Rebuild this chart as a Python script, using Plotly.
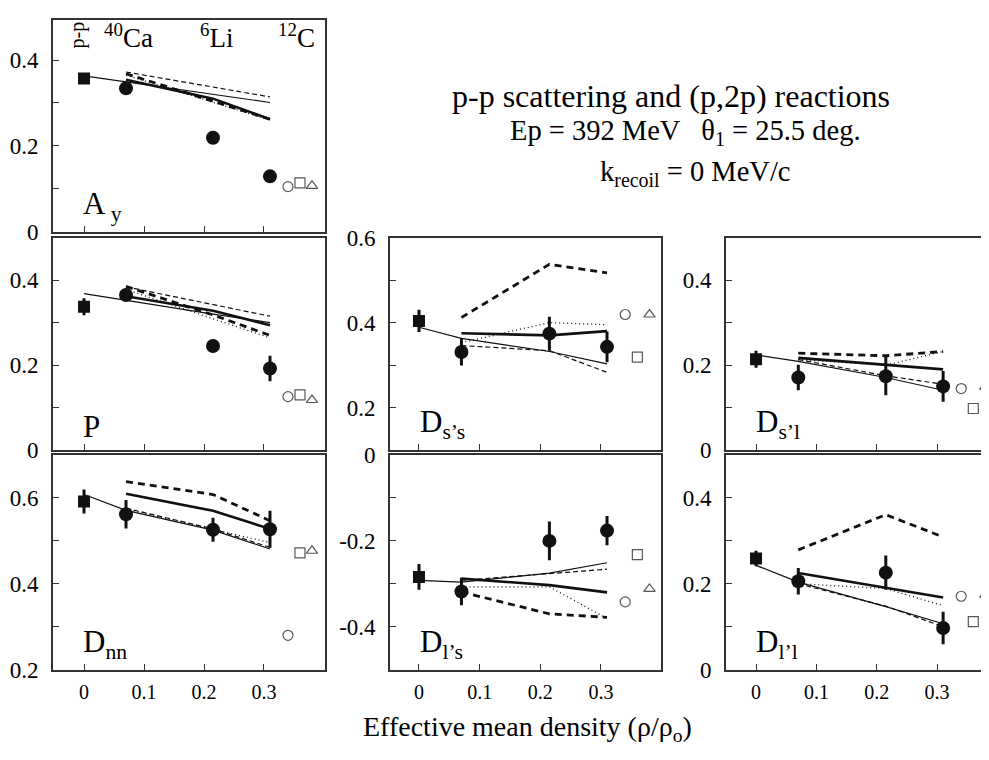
import plotly.graph_objects as go

# the page puts the plot 8px in from the top-left corner, so the figure is
# made 8px smaller and every reference pixel position is shifted by 8px
PAGE_OFFSET = 8
W, H = 989 - PAGE_OFFSET, 760 - PAGE_OFFSET
FONT = "Liberation Serif"

# x positions: p-p point, nuclei (40Ca, 6Li, 12C), open symbols (circle, square, triangle)
X_PP = [0.0]
X_NUC = [0.07, 0.215, 0.31]
X_THIN = [0.0, 0.07, 0.215, 0.31]
X_OPEN = [0.34, 0.36, 0.38]
NUCLEI = ["<sup>40</sup>Ca", "<sup>6</sup>Li", "<sup>12</sup>C"]

# ---------------- A_y ----------------
AY_PP, AY_PP_ERR = [0.357], [0.005]
AY_DATA, AY_ERR = [0.334, 0.219, 0.129], [0.006, 0.006, 0.006]
AY_THIN = [0.363, 0.349, 0.320, 0.301]
AY_THIN_DASH = [0.372, 0.337, 0.314]
AY_THICK = [0.354, 0.310, 0.262]
AY_THICK_DASH = [0.368, 0.305, 0.262]
AY_DOT = [0.365, 0.302, 0.260]
AY_OPEN = [0.105, 0.114, 0.107]

# ---------------- P ----------------
P_PP, P_PP_ERR = [0.337], [0.02]
P_DATA, P_ERR = [0.365, 0.245, 0.192], [0.015, 0.015, 0.03]
P_THIN = [0.368, 0.352, 0.320, 0.300]
P_THIN_DASH = [0.384, 0.342, 0.315]
P_THICK = [0.362, 0.328, 0.294]
P_THICK_DASH = [0.385, 0.318, 0.270]
P_DOT = [0.378, 0.310, 0.264]
P_OPEN = [0.126, 0.130, 0.118]

# ---------------- D_nn ----------------
DNN_PP, DNN_PP_ERR = [0.592], [0.028]
DNN_DATA, DNN_ERR = [0.562, 0.526, 0.527], [0.033, 0.028, 0.043]
DNN_THIN = [0.608, 0.571, 0.525, 0.481]
DNN_THIN_DASH = [0.576, 0.528, 0.485]
DNN_THICK = [0.610, 0.570, 0.528]
DNN_THICK_DASH = [0.638, 0.608, 0.547]
DNN_DOT = [0.574, 0.526, 0.496]
DNN_OPEN = [0.280, 0.472, 0.477]

# ---------------- D_s's ----------------
DSS_PP, DSS_PP_ERR = [0.404], [0.026]
DSS_DATA, DSS_ERR = [0.331, 0.374, 0.343], [0.032, 0.04, 0.036]
DSS_THIN = [0.389, 0.363, 0.332, 0.303]
DSS_THIN_DASH = [0.346, 0.334, 0.283]
DSS_THICK = [0.375, 0.370, 0.380]
DSS_THICK_DASH = [0.412, 0.537, 0.517]
DSS_DOT = [0.353, 0.400, 0.395]
DSS_OPEN = [0.419, 0.319, 0.419]

# ---------------- D_l's ----------------
DLS_PP, DLS_PP_ERR = [-0.284], [0.03]
DLS_DATA, DLS_ERR = [-0.318, -0.200, -0.176], [0.032, 0.045, 0.034]
DLS_THIN = [-0.292, -0.296, -0.275, -0.251]
DLS_THIN_DASH = [-0.292, -0.277, -0.266]
DLS_THICK = [-0.288, -0.303, -0.320]
DLS_THICK_DASH = [-0.319, -0.370, -0.378]
DLS_DOT = [-0.307, -0.307, -0.381]
DLS_OPEN = [-0.342, -0.232, -0.312]

# ---------------- D_s'l ----------------
DSL_PP, DSL_PP_ERR = [0.214], [0.02]
DSL_DATA, DSL_ERR = [0.171, 0.174, 0.150], [0.03, 0.045, 0.036]
DSL_THIN = [0.224, 0.209, 0.171, 0.141]
DSL_THIN_DASH = [0.213, 0.175, 0.155]
DSL_THICK = [0.217, 0.200, 0.190]
DSL_THICK_DASH = [0.228, 0.222, 0.232]
DSL_DOT = [0.213, 0.200, 0.232]
DSL_OPEN = [0.145, 0.098, 0.149]

# ---------------- D_l'l ----------------
DLL_PP, DLL_PP_ERR = [0.259], [0.018]
DLL_DATA, DLL_ERR = [0.206, 0.226, 0.097], [0.031, 0.04, 0.038]
DLL_THIN = [0.243, 0.204, 0.147, 0.107]
DLL_THIN_DASH = [0.200, 0.148, 0.100]
DLL_THICK = [0.225, 0.190, 0.168]
DLL_THICK_DASH = [0.279, 0.361, 0.309]
DLL_DOT = [0.200, 0.189, 0.149]
DLL_OPEN = [0.171, 0.112, 0.174]


def fx(px):
    return min(max((px - PAGE_OFFSET) / W, 0), 1)


def fy(py):
    return min(max(1 - (py - PAGE_OFFSET) / H, 0), 1)


# panel frames in (reference) page pixels
COLS = {1: (53, 325), 2: (390, 661), 3: (726, 989)}
ROWS = {1: (8, 227), 2: (233, 453), 3: (458, 680)}
XRANGE = {1: [-0.0517, 0.4017], 2: [-0.0478, 0.399], 3: [-0.0498, 0.386]}

panels = [
    # col, row, yrange, labelled ticks, label, data...
    (1, 1, [0, 0.4932], [0, 0.2, 0.4], "A<sub> y</sub>",
     AY_PP, AY_PP_ERR, AY_DATA, AY_ERR, AY_THIN, AY_THIN_DASH, AY_THICK, AY_THICK_DASH, AY_DOT, AY_OPEN),
    (1, 2, [0, 0.5], [0, 0.2, 0.4], "P",
     P_PP, P_PP_ERR, P_DATA, P_ERR, P_THIN, P_THIN_DASH, P_THICK, P_THICK_DASH, P_DOT, P_OPEN),
    (1, 3, [0.2, 0.7], [0.2, 0.4, 0.6], "D<sub>nn</sub>",
     DNN_PP, DNN_PP_ERR, DNN_DATA, DNN_ERR, DNN_THIN, DNN_THIN_DASH, DNN_THICK, DNN_THICK_DASH, DNN_DOT, DNN_OPEN),
    (2, 2, [0.1, 0.6], [0.2, 0.4, 0.6], "D<sub>s’s</sub>",
     DSS_PP, DSS_PP_ERR, DSS_DATA, DSS_ERR, DSS_THIN, DSS_THIN_DASH, DSS_THICK, DSS_THICK_DASH, DSS_DOT, DSS_OPEN),
    (2, 3, [-0.5, 0], [-0.4, -0.2, 0], "D<sub>l’s</sub>",
     DLS_PP, DLS_PP_ERR, DLS_DATA, DLS_ERR, DLS_THIN, DLS_THIN_DASH, DLS_THICK, DLS_THICK_DASH, DLS_DOT, DLS_OPEN),
    (3, 2, [0, 0.5], [0, 0.2, 0.4], "D<sub>s’l</sub>",
     DSL_PP, DSL_PP_ERR, DSL_DATA, DSL_ERR, DSL_THIN, DSL_THIN_DASH, DSL_THICK, DSL_THICK_DASH, DSL_DOT, DSL_OPEN),
    (3, 3, [0, 0.5], [0, 0.2, 0.4], "D<sub>l’l</sub>",
     DLL_PP, DLL_PP_ERR, DLL_DATA, DLL_ERR, DLL_THIN, DLL_THIN_DASH, DLL_THICK, DLL_THICK_DASH, DLL_DOT, DLL_OPEN),
]

fig = go.Figure()
layout = {}
annotations = []
INK = "#111"
FRAME = "#333"


def note(px, py, text, size, xanchor="center", yanchor="middle", **kw):
    annotations.append(dict(x=fx(px), y=fy(py), xref="paper", yref="paper", text=text,
                            showarrow=False, xanchor=xanchor, yanchor=yanchor,
                            font=dict(family=FONT, size=size, color="black"), **kw))


for i, p in enumerate(panels, start=1):
    (col, row, yr, yt, label, pp, pp_err, data, err,
     thin, thin_dash, thick, thick_dash, dot, opn) = p
    xa = "x" if i == 1 else f"x{i}"
    ya = "y" if i == 1 else f"y{i}"
    common = dict(xaxis=xa, yaxis=ya, showlegend=False, hoverinfo="skip")

    # model curves
    fig.add_trace(go.Scatter(x=X_THIN, y=thin, mode="lines",
                             line=dict(color=INK, width=1.2), **common))
    fig.add_trace(go.Scatter(x=X_NUC, y=thin_dash, mode="lines",
                             line=dict(color=INK, width=1.2, dash="5px,3px"), **common))
    fig.add_trace(go.Scatter(x=X_NUC, y=dot, mode="lines",
                             line=dict(color=INK, width=1.3, dash="1px,3px"), **common))
    fig.add_trace(go.Scatter(x=X_NUC, y=thick_dash, mode="lines",
                             line=dict(color=INK, width=2.8, dash="7px,5px"), **common))
    fig.add_trace(go.Scatter(x=X_NUC, y=thick, mode="lines",
                             line=dict(color=INK, width=2.6), **common))

    # p-p point and (p,2p) data
    fig.add_trace(go.Scatter(x=X_PP, y=pp, mode="markers",
                             marker=dict(symbol="square", size=12, color=INK),
                             error_y=dict(type="data", array=pp_err, thickness=3, width=0, color=INK),
                             **common))
    fig.add_trace(go.Scatter(x=X_NUC, y=data, mode="markers",
                             marker=dict(symbol="circle", size=14, color=INK),
                             error_y=dict(type="data", array=err, thickness=3, width=0, color=INK),
                             **common))
    # open symbols
    fig.add_trace(go.Scatter(x=X_OPEN, y=opn, mode="markers",
                             marker=dict(symbol=["circle-open", "square-open", "triangle-up-open"],
                                         size=[10, 10, 10], color=INK, line=dict(width=1.2)),
                             **common))

    x0, x1 = COLS[col]
    y0, y1 = ROWS[row]
    layout["xaxis" if i == 1 else f"xaxis{i}"] = dict(
        domain=[fx(x0), fx(x1)], range=XRANGE[col], anchor=ya,
        tickvals=[0, 0.1, 0.2, 0.3], ticktext=["0", "0.1", "0.2", "0.3"],
        showticklabels=(row == 3), ticks="inside", ticklen=6, tickwidth=1.2, tickcolor=FRAME,
        showline=True, linecolor=FRAME, linewidth=1.6, mirror=True,
        showgrid=False, zeroline=False, ticklabelstandoff=4,
        tickfont=dict(family=FONT, size=20, color="black"),
    )
    layout["yaxis" if i == 1 else f"yaxis{i}"] = dict(
        domain=[fy(y1), fy(y0)], range=yr, anchor=xa,
        tickvals=yt, ticktext=[f"{v:g}" for v in yt],
        ticks="inside", ticklen=6, tickwidth=1.2, tickcolor=FRAME,
        minor=dict(dtick=0.1, tick0=0, ticks="inside", ticklen=6, tickwidth=1.2, tickcolor=FRAME),
        showline=True, linecolor=FRAME, linewidth=1.6, mirror=(col != 3),
        showgrid=False, zeroline=False, ticklabelstandoff=8,
        tickfont=dict(family=FONT, size=23, color="black"),
    )

    # panel label
    note(x0 + 28, y1 - 4, label, 31, xanchor="left", yanchor="bottom")

# nucleus labels in the top-left panel
note(77, 24, "p-p", 20, textangle=-90)
for name, px in zip(NUCLEI, [128, 216, 296]):
    note(px, 25, name, 27)

# header text
note(671, 87, "p-p scattering and (p,2p) reactions", 32)
note(685, 124, "Ep = 392 MeV &nbsp; θ<sub>1</sub> = 25.5 deg.", 28.5)
note(695, 167, "k<sub>recoil</sub> = 0 MeV/c", 28.5)
note(527, 741, "Effective mean density (ρ/ρ<sub>o</sub>)", 28)

fig.update_layout(
    width=W, height=H,
    margin=dict(l=0, r=0, t=0, b=0),
    paper_bgcolor="white", plot_bgcolor="white",
    annotations=annotations,
    **layout,
)

fig.write_html("out.html")
